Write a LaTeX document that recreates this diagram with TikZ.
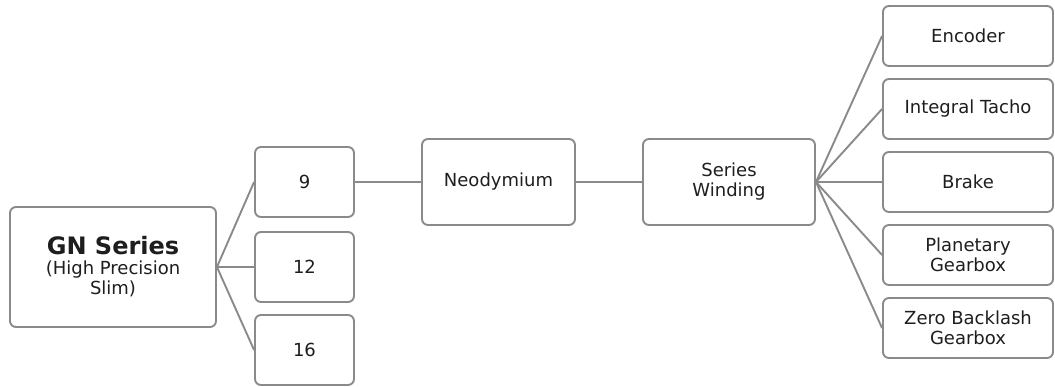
\documentclass[tikz,border=0pt]{standalone}
\usepackage{fontspec}
\setmainfont{DejaVu Sans}
\begin{document}
\begin{tikzpicture}[x=1pt, y=-1pt]
    \definecolor{borderColour}{HTML}{8A8A8A}
    \definecolor{textColour}{HTML}{1E1E1E}

    \tikzset{
        box/.style={draw=borderColour, line width=1.9pt, rounded corners=6pt, fill=white,
            text=textColour, align=center, inner sep=0pt, font=\fontsize{18}{20}\selectfont},
        sizebox/.style={box, minimum width=99pt, minimum height=70pt},
        optbox/.style={box, minimum width=170pt, minimum height=60pt},
        link/.style={draw=borderColour, line width=1.9pt}
    }

    \useasboundingbox (0,0) rectangle (1055,387);

    % Draw series node
    \node[box, minimum width=206pt, minimum height=120pt] (gn) at (113,267)
        {{\bfseries\fontsize{24}{25}\selectfont GN Series}\\(High Precision\\Slim)};

    % Draw frame sizes
    \node[sizebox] (nine) at (304.5,182) {9};
    \node[sizebox] (twelve) at (304.5,267) {12};
    \node[sizebox] (sixteen) at (304.5,350) {16};

    % Draw magnet and winding
    \node[box, minimum width=153pt, minimum height=86pt] (neo) at (498.5,182) {Neodymium};
    \node[box, minimum width=172pt, minimum height=86pt] (winding) at (729,182) {Series\\Winding};

    % Draw options
    \foreach \i/\y/\txt in {1/36/Encoder, 2/109/Integral Tacho, 3/182/Brake,
                            4/255/Planetary\\Gearbox, 5/328/Zero Backlash\\Gearbox}
        \node[optbox] (opt\i) at (968,\y) {\txt};

    % Connect nodes
    \foreach \n in {nine,twelve,sixteen}
        \draw[link] (gn.east) -- (\n.west);
    \draw[link] (nine.east) -- (neo.west);
    \draw[link] (neo.east) -- (winding.west);
    \foreach \i in {1,...,5}
        \draw[link] (winding.east) -- (opt\i.west);

\end{tikzpicture}
\end{document}
